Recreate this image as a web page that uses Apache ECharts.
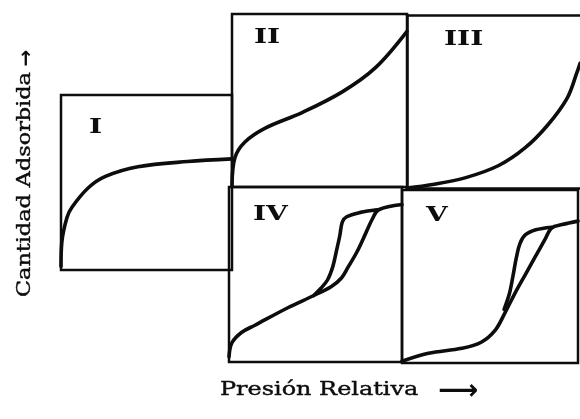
<!DOCTYPE html>
<html>
<head>
<meta charset="utf-8">
<title>Isotermas de adsorción</title>
<script src="https://cdn.jsdelivr.net/npm/echarts@6/dist/echarts.min.js"></script>
<style>
  html, body { margin: 0; padding: 0; background: #fff; }
  #chart { width: 580px; height: 419px; }
</style>
</head>
<body>
<div id="chart"></div>
<script>
// Each isotherm is given in its own panel units: x = relative pressure (0..1),
// y = adsorbed amount (0..1 of the panel height).
const panelNames = ['I', 'II', 'III', 'IV', 'V'];

const typeI = [[0, 0.02], [0.005, 0.16], [0.035, 0.30], [0.065, 0.36], [0.16, 0.47],
  [0.26, 0.535], [0.45, 0.59], [0.74, 0.62], [1.0, 0.635]];

const typeII = [[0, 0.01], [0.017, 0.17], [0.074, 0.26], [0.19, 0.34], [0.40, 0.43],
  [0.63, 0.55], [0.82, 0.69], [1.0, 0.90]];

const typeIII = [[0, 0], [0.148, 0.02], [0.34, 0.06], [0.53, 0.13], [0.68, 0.23],
  [0.81, 0.36], [0.926, 0.52], [0.983, 0.67], [1.0, 0.72]];

const typeIVAds = [[0, 0.03], [0.017, 0.11], [0.074, 0.17], [0.15, 0.21], [0.34, 0.31],
  [0.49, 0.38], [0.59, 0.43], [0.65, 0.48], [0.69, 0.545], [0.74, 0.63], [0.79, 0.735],
  [0.83, 0.82], [0.865, 0.87], [1.0, 0.90]];
const typeIVDes = [[0.49, 0.38], [0.53, 0.42], [0.57, 0.47], [0.60, 0.545], [0.62, 0.63],
  [0.64, 0.72], [0.655, 0.80], [0.68, 0.83], [0.76, 0.855], [0.855, 0.87]];

const typeVAds = [[0, 0.01], [0.15, 0.056], [0.34, 0.085], [0.45, 0.12], [0.53, 0.19],
  [0.585, 0.29], [0.64, 0.40], [0.70, 0.51], [0.755, 0.61], [0.81, 0.71], [0.85, 0.78],
  [0.91, 0.80], [1.0, 0.82]];
const typeVDes = [[0.58, 0.31], [0.61, 0.40], [0.63, 0.50], [0.65, 0.61], [0.67, 0.69],
  [0.70, 0.74], [0.76, 0.77], [0.85, 0.785]];

const xTitle = 'Presión Relativa';
const yTitle = 'Cantidad Adsorbida';
const xArrow = '⟶';
const yArrow = '→';

// Panel frames in pixels (left, top, width, height); panel III runs past the right edge
const frames = [
  [61, 95, 171, 175],
  [232, 14, 175, 173],
  [407, 15, 176, 173],
  [229, 187, 173, 175],
  [402, 190, 176, 173]
];
const openRight = [false, false, true, false, false];
// Roman numeral positions (left, top)
const numeralPos = [[89, 118], [254, 28], [444, 30], [253, 205], [426, 206]];

const ink = '#0d0d0d';
const serif = '"DejaVu Serif", "Liberation Serif", serif';
const frameLine = { show: true, onZero: false, lineStyle: { color: ink, width: 2.5 } };

const grids = frames.map((f, i) => ({
  left: f[0], top: f[1], width: f[2], height: f[3],
  show: !openRight[i], borderColor: ink, borderWidth: 2.5, backgroundColor: 'transparent',
  containLabel: false
}));

const xAxes = [];
const yAxes = [];
frames.forEach((f, i) => {
  const hidden = { show: openRight[i], axisLine: frameLine, axisTick: { show: false },
    axisLabel: { show: false }, splitLine: { show: false } };
  xAxes.push(Object.assign({ type: 'value', gridIndex: i, min: 0, max: 1, position: 'bottom' }, hidden));
  yAxes.push(Object.assign({ type: 'value', gridIndex: i, min: 0, max: 1, position: 'left' }, hidden));
});
// top edge of the open panel
xAxes.push({ type: 'value', gridIndex: 2, min: 0, max: 1, position: 'top', show: true,
  axisLine: frameLine, axisTick: { show: false }, axisLabel: { show: false }, splitLine: { show: false } });

function curve(data, idx) {
  return {
    type: 'line', data: data, xAxisIndex: idx, yAxisIndex: idx,
    smooth: 0.35, showSymbol: false, symbol: 'none', silent: true, clip: false,
    lineStyle: { color: ink, width: 3.6, cap: 'round', join: 'round' },
    animation: false
  };
}

const series = [
  curve(typeI, 0),
  curve(typeII, 1),
  curve(typeIII, 2),
  curve(typeIVAds, 3), curve(typeIVDes, 3),
  curve(typeVAds, 4), curve(typeVDes, 4)
];

const graphics = panelNames.map((n, i) => ({
  type: 'text', x: numeralPos[i][0], y: numeralPos[i][1], scaleX: 1.4,
  style: { text: n, font: 'bold 20px ' + serif, fill: ink }
}));
// horizontal axis title and arrow
graphics.push({
  type: 'text', x: 220, y: 390, scaleX: 1.33,
  style: { text: xTitle, font: '18px ' + serif, fill: ink, stroke: ink, lineWidth: 0.4,
    align: 'left', verticalAlign: 'middle' }
});
graphics.push({
  type: 'text', x: 438, y: 392,
  style: { text: xArrow, font: 'bold 28px "DejaVu Sans"', fill: ink,
    align: 'left', verticalAlign: 'middle' }
});
// vertical axis title and arrow
graphics.push({
  type: 'text', x: 25, y: 297, rotation: Math.PI / 2, scaleX: 1.24,
  style: { text: yTitle, font: '18px ' + serif, fill: ink, stroke: ink, lineWidth: 0.4,
    align: 'left', verticalAlign: 'middle' }
});
graphics.push({
  type: 'text', x: 27, y: 58, rotation: Math.PI / 2,
  style: { text: yArrow, font: 'bold 20px "DejaVu Sans"', fill: ink,
    align: 'center', verticalAlign: 'middle' }
});

const chart = echarts.init(document.getElementById('chart'), null, { renderer: 'canvas' });
chart.setOption({
  backgroundColor: '#fff',
  animation: false,
  grid: grids,
  xAxis: xAxes,
  yAxis: yAxes,
  series: series,
  graphic: graphics
});
</script>
</body>
</html>
